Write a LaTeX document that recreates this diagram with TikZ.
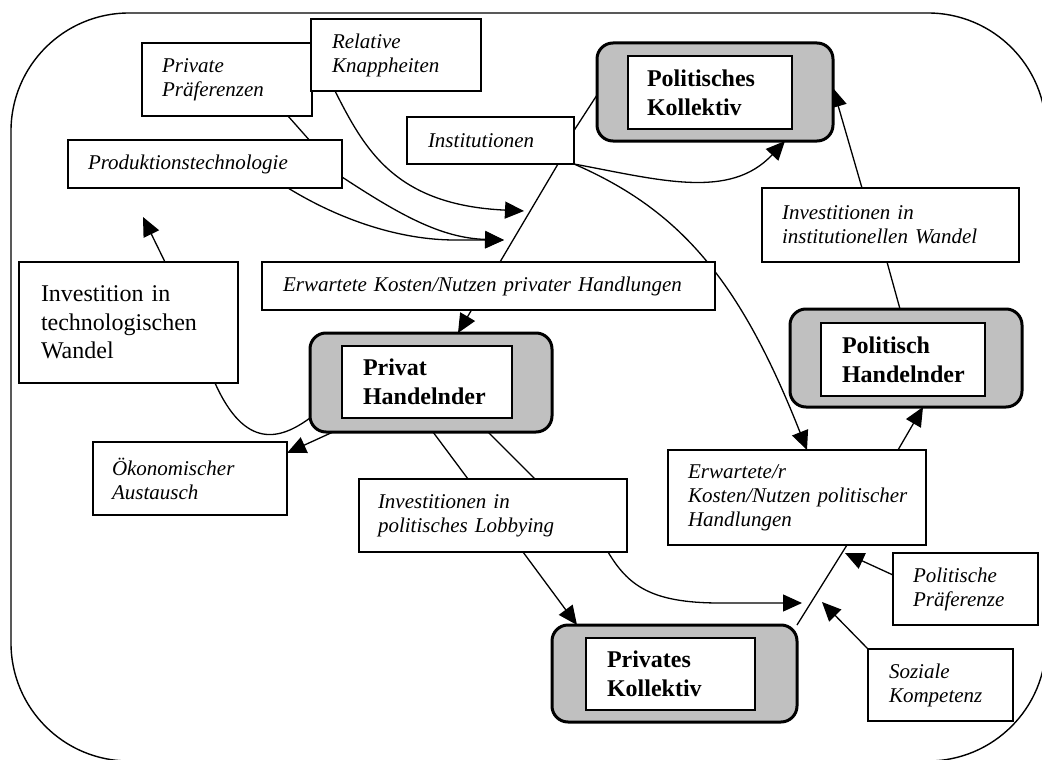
\documentclass[tikz,border=0pt]{standalone}
\usepackage{fontspec}
\setmainfont{Liberation Serif}
\usetikzlibrary{arrows.meta}
\definecolor{boxgray}{RGB}{192,192,192}
\newcommand{\myit}{\itshape\fontsize{21pt}{24pt}\selectfont}
\newcommand{\mybf}{\bfseries\fontsize{24pt}{29pt}\selectfont}
\newcommand{\myrm}{\upshape\fontsize{24pt}{28.5pt}\selectfont}
\hyphenpenalty=10000
\exhyphenpenalty=10000
\pgfdeclarelayer{bg}
\pgfdeclarelayer{edges}
\pgfsetlayers{bg,edges,main}
\begin{document}
\begin{tikzpicture}[x=1pt,y=-1pt,
  tbox/.style={draw, line width=1.3pt, fill=white, rectangle, anchor=north west,
    align=left, inner xsep=20pt, inner ysep=0pt, outer sep=0pt, font=\myit},
  gbox/.style={draw, line width=3pt, fill=boxgray, rounded corners=16pt,
    anchor=north west, inner sep=0pt, outer sep=0pt},
  ibox/.style={draw, line width=1.3pt, fill=white, rectangle, anchor=north west,
    align=left, inner xsep=20pt, inner ysep=0pt, outer sep=0pt, font=\mybf},
  conn/.style={line width=1.3pt},
  arr/.style={conn, -{Triangle[length=19pt,width=17pt]}}]
\useasboundingbox (0,0) rectangle (1042,760);
\begin{pgfonlayer}{bg}
  \clip (0,0) rectangle (1042,760);
  \draw[line width=1.4pt, rounded corners=118pt] (11,13) rectangle (1046,761);
\end{pgfonlayer}

% plain boxes
\node[tbox, text width=130pt, minimum height=73pt] (pp) at (142,43) {Private\\Präferenzen};
\node[tbox, text width=128pt, inner xsep=21pt, minimum height=72pt] (rk) at (311,19) {Relative\\Knappheiten};
\node[tbox, text width=234pt, minimum height=48pt] (pt) at (68,140) {Produktionstechnologie};
\node[tbox, text width=125pt, inner xsep=21pt, minimum height=47pt] (inst) at (407,117) {Institutionen};
\node[tbox, text width=217pt, minimum height=74pt] (iiw) at (762,188) {\mbox{Investitionen in}\\\mbox{institutionellen Wandel}};
\node[tbox, font=\myrm, text width=175pt, inner xsep=22pt, minimum height=121pt] (itw) at (19,262) {\mbox{Investition in}\\technologischen\\Wandel};
\node[tbox, text width=411pt, inner xsep=21pt, minimum height=48pt] (ekp) at (262,262) {\mbox{Erwartete Kosten/Nutzen privater Handlungen}};
\node[tbox, text width=156pt, inner xsep=19pt, minimum height=73pt] (oa) at (93,442) {Ökonomischer\\Austausch};
\node[tbox, text width=230pt, inner xsep=19pt, minimum height=73pt] (ipl) at (359,479) {\mbox{Investitionen in}\\\mbox{politisches Lobbying}};
\node[tbox, text width=218pt, minimum height=95pt] (ekpol) at (668,450) {Erwartete/r\\\mbox{Kosten/Nutzen politischer}\\Handlungen};
\node[tbox, text width=105pt, minimum height=72pt] (pp2) at (893,553) {Politische\\Präferenze};
\node[tbox, text width=103pt, inner xsep=21pt, minimum height=72pt] (sk) at (868,649) {Soziale\\Kompetenz};

% actor boxes
\node[gbox, minimum width=236pt, minimum height=98pt] (polkout) at (597,43) {};
\node[ibox, text width=126pt, inner xsep=19pt, minimum height=73pt] (polk) at (628,56) {Politisches\\Kollektiv};
\node[gbox, minimum width=242pt, minimum height=99pt] (phout) at (310,333) {};
\node[ibox, text width=128pt, inner xsep=21pt, minimum height=72pt] (ph) at (342,346) {Privat\\Handelnder};
\node[gbox, minimum width=232pt, minimum height=98pt] (polhout) at (790,309) {};
\node[ibox, text width=122pt, inner xsep=21pt, minimum height=73pt] (polh) at (821,323) {Politisch\\Handelnder};
\node[gbox, minimum width=245pt, minimum height=97pt] (privkout) at (552,625) {};
\node[ibox, text width=127pt, inner xsep=21pt, minimum height=72pt] (privk) at (586,638) {Privates\\Kollektiv};

% free arrow tips
\coordinate (a1) at (524,211);
\coordinate (a2) at (504,240);
\coordinate (a3) at (143,217);
\coordinate (a4) at (802,603);
\coordinate (a5) at (845,553);
\coordinate (a6) at (822,602);

\begin{pgfonlayer}{edges}
\draw[arr] ([xshift=61pt]pp.south) -- ([yshift=-13pt]pt.east) .. controls +(58,38) and +(-63,-2) .. (a2);
\draw[arr] ([xshift=83pt]pt.south) .. controls +(52,32) and +(-55,0) .. ([xshift=-49pt]a2) -- (a2);
\draw[arr] ([xshift=-61pt]rk.south) .. controls +(30,59) and +(-129,-6) .. (a1);
\draw[conn] ([xshift=-16pt]inst.south east) -- ([xshift=11.5pt]ekp.north);
\draw[conn] ([yshift=10pt]inst.east) -- ([yshift=-3pt]polkout.west);
\draw[arr] (inst.south east) .. controls +(86,16) and +(-55,59) .. ([xshift=70pt]polkout.south);
\draw[arr] (inst.south east) .. controls +(106,46) and +(-67,-170) .. ([xshift=10pt]ekpol.north);
\draw[arr] ([xshift=-28.5pt]iiw.north) -- ([yshift=4pt]polkout.east);
\draw[conn] ([xshift=-6pt]polhout.north) -- ([xshift=-3.5pt]iiw.south);
\draw[arr] ([xshift=-28pt]ekpol.north east) -- ([xshift=17pt]polhout.south);
\draw[arr] ([xshift=-17pt]ekp.south) -- ([xshift=27pt]phout.north);
\draw[arr] ([xshift=36.5pt]itw.north) -- (a3);
\draw[conn] ([yshift=14pt]phout.south west) .. controls +(-30,22) and +(30,67) .. ([xshift=86.5pt]itw.south);
\draw[arr] ([xshift=23pt]phout.south west) -- ([yshift=-11pt]oa.north east);
\draw[conn] ([xshift=2pt]phout.south) -- ([xshift=-25pt]ipl.north);
\draw[arr] ([xshift=57pt]phout.south) -- ([xshift=115pt]ipl.south) .. controls +(20,33) and +(-70,0) .. ([xshift=-82pt]a4) -- (a4);
\draw[arr] ([xshift=30pt]ipl.south) -- ([xshift=25pt]privkout.north west);
\draw[conn] (privkout.north east) -- ([xshift=50pt]ekpol.south);
\draw[arr] ([yshift=14pt]pp2.west) -- (a5);
\draw[arr] (sk.north west) -- (a6);
\end{pgfonlayer}
\end{tikzpicture}
\end{document}
